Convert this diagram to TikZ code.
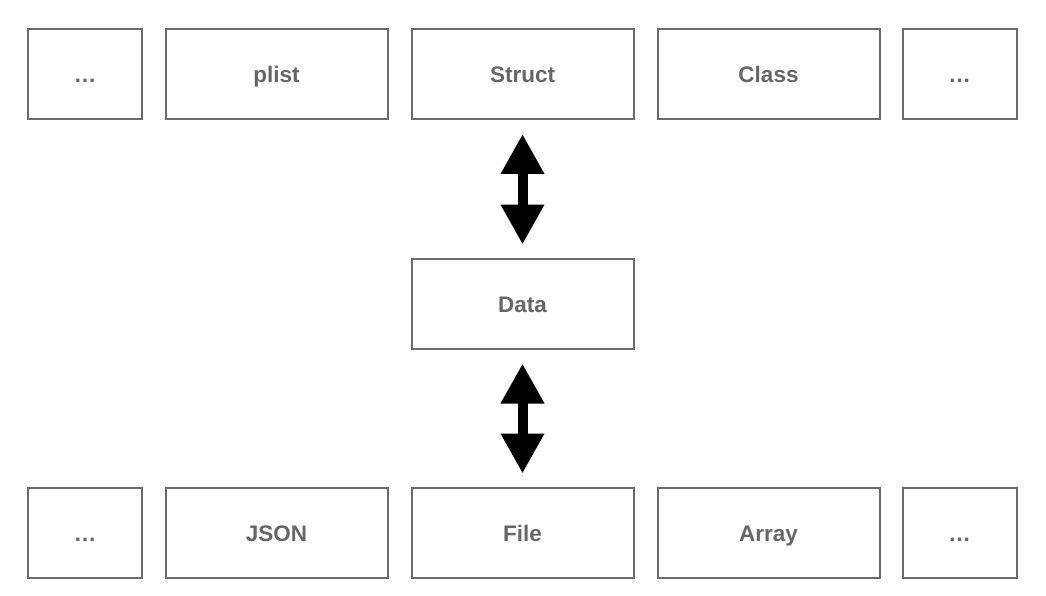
\documentclass[tikz,border=0pt]{standalone}
\usepackage{fontspec}
\setmainfont{Liberation Sans}
\usetikzlibrary{arrows.meta}
\definecolor{boxline}{HTML}{6B6B6B}
\definecolor{boxtext}{HTML}{666666}
\begin{document}
\begin{tikzpicture}[x=1pt,y=-1pt,
  box/.style={draw=boxline, line width=2pt, fill=white, minimum height=90pt,
    inner sep=0pt, text height=16pt, text depth=0pt, text=boxtext,
    font=\fontsize{22.5}{25}\selectfont\bfseries},
  narrow/.style={box, minimum width=114pt},
  wide/.style={box, minimum width=222pt},
  bigarrow/.style={line width=10pt, black,
    {Triangle[width=41pt,length=40pt]}-{Triangle[width=41pt,length=40pt]},
    shorten <=13.5pt, shorten >=13.5pt}]
\useasboundingbox[fill=white] (0,0) rectangle (1046,596);
% top row
\node[narrow] (t1) at (85,74.5) {…};
\node[wide] (t2) at (276.5,74.5) {plist};
\node[wide] (t3) at (522.5,74.5) {Struct};
\node[wide] (t4) at (768.5,74.5) {Class};
\node[narrow] (t5) at (959.5,74.5) {…};
% middle
\node[wide] (data) at (522.5,304) {Data};
% bottom row
\node[narrow] (b1) at (85,533) {…};
\node[wide] (b2) at (276.5,533) {JSON};
\node[wide] (b3) at (522.5,533) {File};
\node[wide] (b4) at (768.5,533) {Array};
\node[narrow] (b5) at (959.5,533) {…};
% arrows
\draw[bigarrow] (t3.south) -- (data.north);
\draw[bigarrow] (data.south) -- (b3.north);
\end{tikzpicture}
\end{document}
